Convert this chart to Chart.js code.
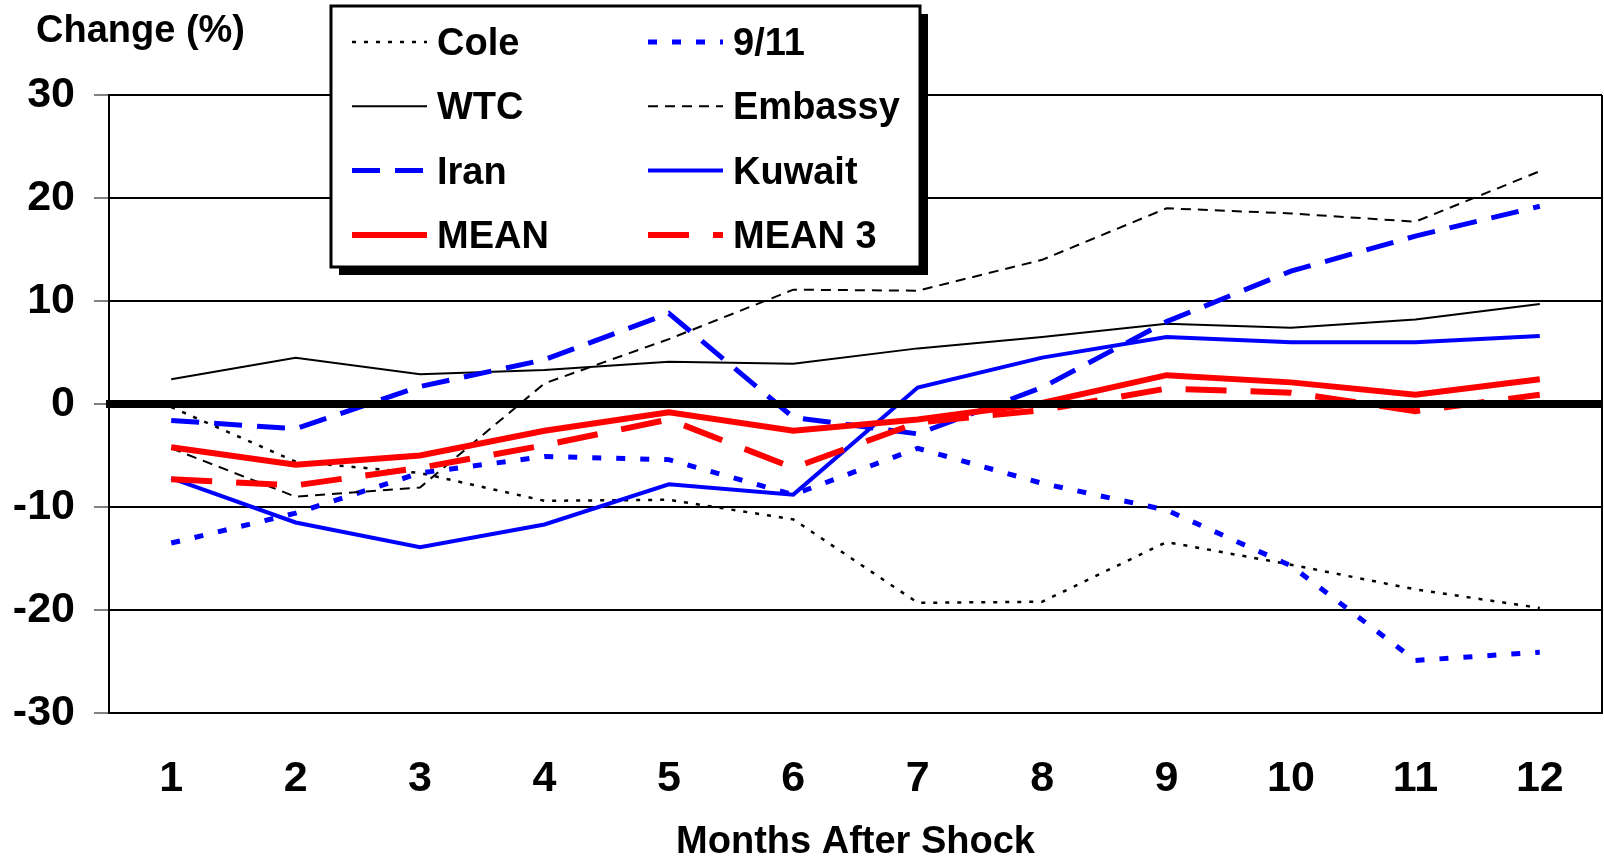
<!DOCTYPE html>
<html>
<head>
<meta charset="utf-8">
<script src="https://cdn.jsdelivr.net/npm/chart.js@4.4.1/dist/chart.umd.min.js"></script>
<style>
  html, body { margin: 0; padding: 0; background: #ffffff; }
  canvas { display: block; }
</style>
</head>
<body>
<canvas id="chart" width="1604" height="856"></canvas>
<script>
// values (% change, months 1..12)
const months = ["1", "2", "3", "4", "5", "6", "7", "8", "9", "10", "11", "12"];
const yTicks = [30, 20, 10, 0, -10, -20, -30];

const cole = [-0.3, -5.6, -6.7, -9.4, -9.3, -11.2, -19.3, -19.2, -13.4, -15.6, -18.0, -19.8];
const nineEleven = [-13.5, -10.6, -6.7, -5.1, -5.4, -8.8, -4.3, -7.7, -10.3, -15.7, -24.9, -24.1];
const wtc = [2.4, 4.5, 2.9, 3.3, 4.1, 3.9, 5.4, 6.5, 7.8, 7.4, 8.2, 9.7];
const embassy = [-4.3, -9.0, -8.1, 2.0, 6.3, 11.1, 11.0, 14.0, 19.0, 18.5, 17.7, 22.6];
const iran = [-1.6, -2.4, 1.7, 4.3, 8.8, -1.3, -2.9, 1.6, 8.0, 12.9, 16.3, 19.2];
const kuwait = [-7.2, -11.5, -13.9, -11.7, -7.8, -8.8, 1.6, 4.5, 6.5, 6.0, 6.0, 6.6];
const mean = [-4.2, -5.9, -5.0, -2.6, -0.8, -2.6, -1.5, 0.1, 2.8, 2.1, 0.9, 2.4];
const mean3 = [-7.3, -7.9, -6.2, -4.0, -1.5, -6.2, -1.8, -0.6, 1.5, 1.1, -0.7, 0.9];

const FONT = "'Liberation Sans', Arial, sans-serif";
const BLUE = "#0000ff";
const RED = "#ff0000";

function series(label, data, color, width, dash) {
  return {
    label: label,
    data: data,
    borderColor: color,
    backgroundColor: color,
    borderWidth: width,
    borderDash: dash,
    borderCapStyle: "butt",
    pointRadius: 0,
    tension: 0,
    fill: false
  };
}

const datasets = [
  series("Cole", cole, "#000000", 2.5, [4, 8]),
  series("9/11", nineEleven, BLUE, 5, [9, 15]),
  series("WTC", wtc, "#000000", 2, []),
  series("Embassy", embassy, "#000000", 2, [10, 7]),
  series("Iran", iran, BLUE, 5, [28, 15]),
  series("Kuwait", kuwait, BLUE, 4, []),
  series("MEAN", mean, RED, 6, []),
  series("MEAN 3", mean3, RED, 6, [41, 24])
];
// later series sit on top, like the original
datasets.forEach((d, i) => { d.order = datasets.length - i; });

const frame = { // zero line, right edge, y title and the boxed legend
  id: "frame",
  afterDatasetsDraw: (chart) => {
    const { ctx, chartArea, scales } = chart;
    ctx.save();
    ctx.strokeStyle = "#000000";
    ctx.lineWidth = 2;
    ctx.beginPath();
    ctx.moveTo(chartArea.right, chartArea.top);
    ctx.lineTo(chartArea.right, chartArea.bottom);
    ctx.stroke();

    const y0 = scales.y.getPixelForValue(0);
    ctx.lineWidth = 8;
    ctx.beginPath();
    ctx.moveTo(chartArea.left - 3, y0);
    ctx.lineTo(chartArea.right, y0);
    ctx.stroke();
    ctx.restore();
  },
  afterDraw: (chart) => {
    const { ctx } = chart;
    ctx.save();
    ctx.fillStyle = "#000000";
    ctx.font = "bold 38px " + FONT;
    ctx.textBaseline = "alphabetic";
    ctx.textAlign = "left";
    ctx.fillText("Change (%)", 36, 42);

    const bx = 331, by = 6, bw = 589, bh = 261;
    ctx.fillRect(bx + 8, by + 8, bw, bh);
    ctx.fillStyle = "#ffffff";
    ctx.fillRect(bx, by, bw, bh);
    ctx.strokeStyle = "#000000";
    ctx.lineWidth = 3;
    ctx.strokeRect(bx, by, bw, bh);

    chart.data.datasets.forEach((ds, i) => {
      const col = i % 2, row = Math.floor(i / 2);
      const lx = col === 0 ? 352 : 648;
      const ly = 42 + row * 64.3;
      ctx.strokeStyle = ds.borderColor;
      ctx.lineWidth = ds.borderWidth;
      ctx.setLineDash(ds.borderDash);
      ctx.lineCap = "butt";
      ctx.beginPath();
      ctx.moveTo(lx, ly);
      ctx.lineTo(lx + 75, ly);
      ctx.stroke();
      ctx.setLineDash([]);
      ctx.fillStyle = "#000000";
      ctx.fillText(ds.label, lx + 85, ly + 13);
    });
    ctx.restore();
  }
};

new Chart(document.getElementById("chart"), {
  type: "line",
  data: { labels: months, datasets: datasets },
  options: {
    responsive: false,
    animation: false,
    layout: { padding: { left: 0, right: 2, top: 95, bottom: 0 } },
    plugins: {
      legend: { display: false },
      tooltip: { enabled: false }
    },
    scales: {
      x: {
        offset: true,
        grid: { display: false, drawTicks: false },
        border: { display: true, color: "#000000", width: 2 },
        ticks: {
          color: "#000000",
          padding: 40,
          maxRotation: 0,
          font: { family: FONT, size: 43, weight: "bold" }
        },
        title: {
          display: true,
          text: "Months After Shock",
          color: "#000000",
          padding: 0,
          font: { family: FONT, size: 38, weight: "bold", lineHeight: 0.72 }
        },
        afterFit: (scale) => { scale.height = 143; }
      },
      y: {
        min: -30,
        max: 30,
        afterBuildTicks: (scale) => { scale.ticks = yTicks.map(v => ({ value: v })); },
        grid: {
          color: "#000000",
          lineWidth: 2,
          tickColor: "#808080",
          tickWidth: 2,
          tickLength: 15
        },
        border: { display: true, color: "#000000", width: 2 },
        ticks: {
          color: "#000000",
          padding: 19,
          font: { family: FONT, size: 43, weight: "bold" }
        },
        afterFit: (scale) => { scale.width = 109; }
      }
    }
  },
  plugins: [frame]
});
</script>
</body>
</html>
